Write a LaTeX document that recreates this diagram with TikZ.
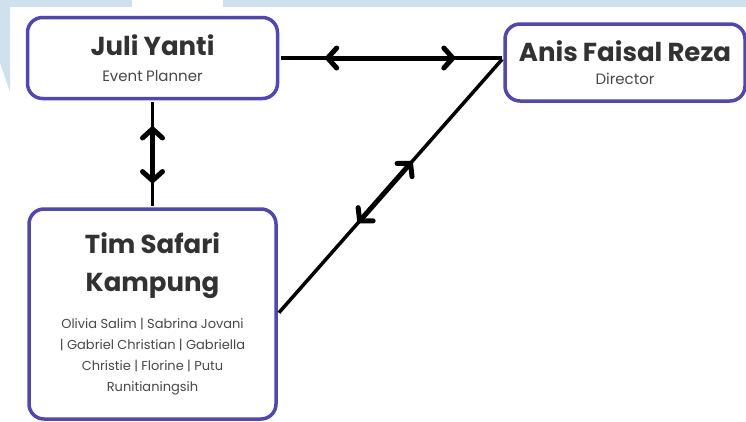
\documentclass[tikz,border=0pt]{standalone}
\usepackage{fontspec}
\setmainfont{Poppins}
\usetikzlibrary{arrows.meta}

\definecolor{boxline}{RGB}{80,70,182}
\definecolor{ink}{RGB}{50,50,50}
\definecolor{softink}{RGB}{72,72,72}
\definecolor{bgblue}{RGB}{207,224,238}

\newcommand{\nameface}{\fontsize{26}{38}\selectfont\bfseries\spaceskip=.2em}
\newcommand{\roleface}[1]{\fontsize{15}{#1}\selectfont\color{softink}}

\begin{document}
\begin{tikzpicture}[x=1pt,y=-1pt]
\tikzstyle{box}= [rectangle,draw=boxline,line width=3.5pt,rounded corners=15pt,fill=white,
  align=center,text=ink,inner sep=0pt]
\tikzstyle{link}= [line width=3.5pt,shorten <=1.75pt,shorten >=1.75pt]
\tikzstyle{dbl}= [{Straight Barb[length=9pt,width=20pt,round]}-{Straight Barb[length=9pt,width=20pt,round]},
  line width=5pt]

\useasboundingbox (0,0) rectangle (746,421);
% light blue backdrop
\fill[bgblue] (0,0) rectangle (132,7);
\fill[bgblue] (223,0) rectangle (746,7);
\fill[bgblue] (0,7) -- (10,7) -- (10,92) -- (0,63) -- cycle;

\path
	(152.5,58)  node[box,minimum width=250pt,minimum height=81pt,text width=240pt] (juli)
		{{\nameface Juli Yanti\par}{\roleface{26pt}Event Planner\par}}
	(625,62.5)  node[box,minimum width=240pt,minimum height=77pt,text width=236pt] (anis)
		{{\nameface Anis Faisal Reza\par}{\roleface{23pt}Director\par}}
	(152.5,314) node[box,minimum width=247pt,minimum height=210pt,text width=236pt] (tim)
		{{\nameface Tim Safari\\Kampung\par}\vspace{16.5pt}
		 {\fontsize{13}{21}\selectfont\color{softink}Olivia Salim | Sabrina Jovani\\| Gabriel Christian | Gabriella\\Christie | Florine | Putu\\Runitianingsih\par}}
;
\coordinate (hub) at (juli.east -| anis.west);

\draw[link] (juli.east) -- coordinate[pos=.205] (h1) coordinate[pos=.786] (h2) (hub);
\draw[link] (juli.south) -- coordinate[pos=.245] (v1) coordinate[pos=.774] (v2) (tim.north);
\draw[link] (hub) -- coordinate[pos=.404] (d1) coordinate[pos=.644] (d2) (tim.east);

\draw[dbl] (h1) -- (h2);
\draw[dbl] (v1) -- (v2);
\draw[dbl] (d1) -- (d2);
\end{tikzpicture}
\end{document}
